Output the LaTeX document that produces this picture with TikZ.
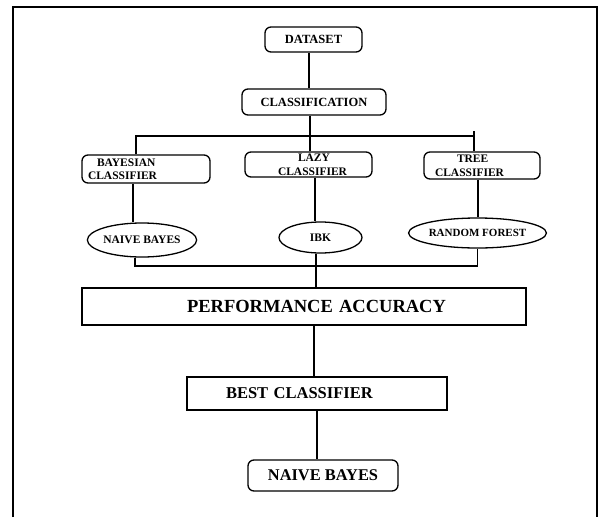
\documentclass[tikz,border=0pt]{standalone}
\usepackage{fontspec}
\setmainfont{Liberation Serif}
\usetikzlibrary{shapes.geometric}

\begin{document}
\begin{tikzpicture}[x=1pt, y=-1pt, line width=1.3pt,
    rbox/.style = {draw, rounded corners=6pt, inner sep=0pt, align=center, font=\fontsize{11.5}{14}\selectfont\bfseries},
    oval/.style = {draw, ellipse, inner sep=0pt, font=\fontsize{11.5}{13}\selectfont\bfseries},
    sbox/.style = {draw, inner sep=0pt, align=left}]

    \useasboundingbox (0,0) rectangle (600,517);
    \draw[line width=1.4pt] (13,517) -- (13,7) -- (597,7) -- (597,517);

    \node[rbox, minimum width=97pt, minimum height=25pt, font=\fontsize{12.5}{14}\selectfont\bfseries] (dataset) at (313.5,39.5) {DATASET};
    \node[rbox, minimum width=144pt, minimum height=26pt, font=\fontsize{12.5}{14}\selectfont\bfseries] (classif) at (314,102) {CLASSIFICATION};

    \node[rbox, text width=128pt, minimum height=28pt, align=left, font=\fontsize{11.5}{12.5}\selectfont\bfseries] (bayes) at (146,169) {\hspace*{15pt}BAYESIAN\\\hspace*{6pt}CLASSIFIER};
    \node[rbox, text width=127pt, minimum height=25pt, align=left] (lazy) at (308.5,164.5) {\hspace*{53pt}LAZY\\\hspace*{33pt}CLASSIFIER};
    \node[rbox, text width=116pt, minimum height=27pt, align=left] (tree) at (482,165.5) {\hspace*{33pt}TREE\\\hspace*{11pt}CLASSIFIER};

    \node[oval, minimum width=102pt, minimum height=34pt] (nb) at (142,240) {NAIVE BAYES};
    \node[oval, minimum width=83pt, minimum height=31pt] (ibk) at (320.5,237.5) {IBK};
    \node[oval, minimum width=125pt, minimum height=30pt, font=\fontsize{11}{13}\selectfont\bfseries] (rf) at (477.5,233) {RANDOM FOREST};

    \node[sbox, text width=444pt, minimum height=37pt, font=\fontsize{18.5}{20}\selectfont\bfseries] (perf) at (304,306.5) {\hspace*{105pt}PERFORMANCE ACCURACY};
    \node[sbox, text width=260pt, minimum height=33pt, font=\fontsize{16.5}{18}\selectfont\bfseries] (best) at (317,393.5) {\hspace*{39pt}BEST CLASSIFIER};
    \node[rbox, minimum width=150pt, minimum height=31pt, font=\fontsize{16.4}{18}\selectfont\bfseries] (final) at (323,475.5) {NAIVE BAYES};

    \coordinate (top) at (136,136);
    \coordinate (tick) at (474,131);
    \coordinate (bot) at (135,266);

    \draw ([xshift=-4.5pt]dataset.south) -- ([xshift=-4.5pt]dataset.south |- classif.north);
    \draw ([xshift=-4pt]classif.south) -- ([xshift=-4pt]classif.south |- lazy.north);
    \draw (bayes.north -| top) -- (top) -- (top -| tick);
    \draw (tick) -- (tick |- tree.north);
    \draw ([xshift=-13pt]bayes.south) -- ([xshift=-13pt]bayes.south |- nb.north);
    \draw ([xshift=6.5pt]lazy.south) -- ([xshift=6.5pt]lazy.south |- ibk.north);
    \draw ([xshift=-4pt]tree.south) -- ([xshift=-4pt]tree.south |- rf.north);
    \draw (nb.south -| bot) -- (bot) -- (bot -| rf.south) -- (rf.south);
    \draw ([xshift=-4.5pt]ibk.south) -- ([xshift=-4.5pt]ibk.south |- perf.north);
    \draw ([xshift=10pt]perf.south) -- ([xshift=10pt]perf.south |- best.north);
    \draw (best.south) -- (best.south |- final.north);

\end{tikzpicture}
\end{document}
